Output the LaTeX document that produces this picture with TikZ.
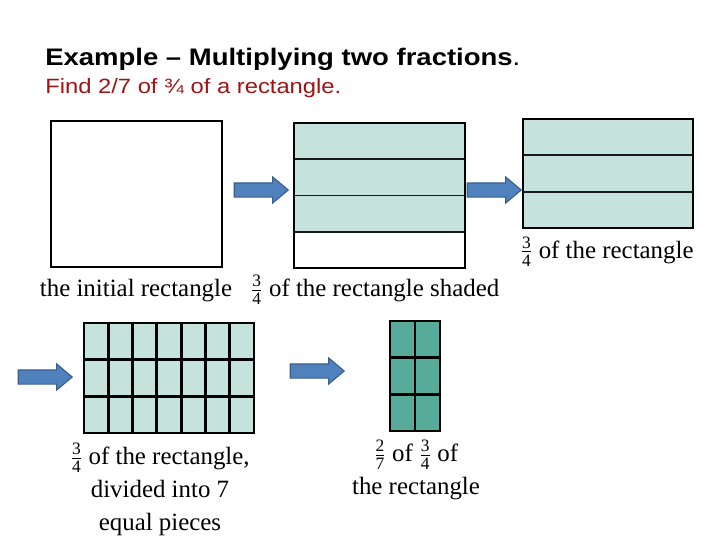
\documentclass[tikz,border=0pt]{standalone}
\usepackage{amsmath}
\usepackage{fontspec}
\setmainfont{Liberation Serif}
\newfontfamily\headfont[FakeStretch=1.15]{Liberation Sans}
\usepackage{xcolor}
\definecolor{fracTealLight}{HTML}{C5E3DC}
\definecolor{fracTealDark}{HTML}{56AB9A}
\definecolor{fracBlue}{HTML}{4F81BD}
\definecolor{fracBlueEdge}{HTML}{3A5F8E}
\definecolor{fracRed}{HTML}{9E1414}
\usetikzlibrary{arrows.meta,positioning,shapes.arrows,calc}
\def\px{0.025cm}
\newcommand{\frc}[2]{$\frac{\text{#1}}{\text{#2}}$}

\begin{document}
\begin{tikzpicture}[
  x=0.025cm, y=-0.025cm,
  plainbox/.style={draw=black, line width=1.2pt, fill=white, inner sep=0pt, outer sep=0pt},
  gridline/.style={draw=black, line width=2pt},
  stripline/.style={draw=black!90, line width=1.2pt},
  blockarrow/.style={single arrow, draw=fracBlueEdge, fill=fracBlue, line width=0.8pt, minimum height=54*\px, minimum width=25*\px, single arrow head extend=6*\px, single arrow tip angle=80, single arrow head indent=0pt, inner sep=6.5*\px},
  caption/.style={font=\fontsize{17.7}{23.4}\selectfont, inner sep=0pt}
]
\useasboundingbox (0,0) rectangle (720,540);

% Heading
\node[anchor=base west, inner sep=0pt, font=\headfont\bfseries\fontsize{17}{20}\selectfont] (title) at (45,65.5) {Example – Multiplying two fractions{\mdseries .}};
\node[anchor=base west, inner sep=0pt, text=fracRed, font=\headfont\fontsize{14.7}{18}\selectfont] (task) at (45,93) {Find 2/7 of ¾ of a rectangle.};

% Top row of rectangles
\node[plainbox, minimum width=171*\px, minimum height=146*\px] (initial) at (136.5,194) {};
\node[plainbox, minimum width=171*\px, minimum height=145*\px] (shaded) at (379.5,195.5) {};
\fill[fracTealLight] (shaded.north west) rectangle ($(shaded.north east)!0.75!(shaded.south east)$);
\foreach \i in {1,2,3}
  \draw[stripline] ($(shaded.north west)!\i/4!(shaded.south west)$) -- ($(shaded.north east)!\i/4!(shaded.south east)$);
\draw[line width=1.2pt] (shaded.north west) rectangle (shaded.south east);

\node[plainbox, fill=fracTealLight, minimum width=170*\px, minimum height=109*\px] (threequarters) at (608,173.5) {};
\foreach \i in {1,2}
  \draw[stripline] ($(threequarters.north west)!\i/3!(threequarters.south west)$) -- ($(threequarters.north east)!\i/3!(threequarters.south east)$);

% Bottom row
\node[plainbox, fill=fracTealLight, line width=2pt, minimum width=170*\px, minimum height=110*\px] (sevenths) at (169,378) {};
\foreach \i in {1,...,6}
  \draw[gridline] ($(sevenths.north west)!\i/7!(sevenths.north east)$) -- ($(sevenths.south west)!\i/7!(sevenths.south east)$);
\foreach \i in {1,2}
  \draw[gridline] ($(sevenths.north west)!\i/3!(sevenths.south west)$) -- ($(sevenths.north east)!\i/3!(sevenths.south east)$);

\node[plainbox, fill=fracTealDark, line width=2pt, minimum width=50*\px, minimum height=110*\px] (result) at (415,376) {};
\draw[gridline] (result.north) -- (result.south);
\foreach \i in {1,2}
  \draw[gridline] ($(result.north west)!\i/3!(result.south west)$) -- ($(result.north east)!\i/3!(result.south east)$);

% Arrows
\node[blockarrow] (a1) at (257,190) {};
\node[blockarrow] (a2) at (490,190) {};
\node[blockarrow] (a3) at (41,377) {};
\node[blockarrow] (a4) at (313,371) {};

% Captions
\node[caption, anchor=base] (lblInitial) at (136,296) {the initial rectangle};
\node[caption, anchor=base] (lblShaded) at (375,296.5) {\frc34 of the rectangle shaded};
\node[caption, anchor=base] (lblThree) at (607,258) {\frc34 of the rectangle};
\node[caption, anchor=base, align=center] (lblSevenths) at (160,530) {\frc34 of the rectangle,\\ divided into 7\\ equal pieces};
\node[caption, anchor=base, align=center] (lblResult) at (416,494) {\frc27 of \frc34 of\\ the rectangle};

\end{tikzpicture}
\end{document}
